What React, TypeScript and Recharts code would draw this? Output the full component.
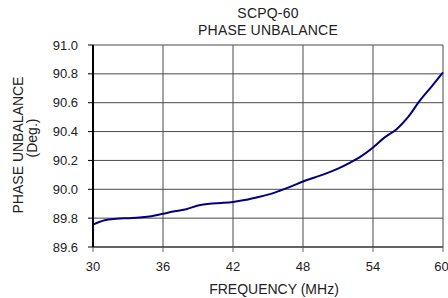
import React from 'react';
import { LineChart, Line, XAxis, YAxis, CartesianGrid } from 'recharts';

const freqs = [30, 31, 32, 33, 34, 35, 36, 37, 38, 39, 40, 41, 42, 43, 44, 45, 46, 47, 48, 49, 50, 51, 52, 53, 54, 55, 56, 57, 58, 59, 60];
const phase = [89.755, 89.785, 89.795, 89.8, 89.805, 89.813, 89.83, 89.848, 89.862, 89.887, 89.9, 89.905, 89.912, 89.925, 89.943, 89.963, 89.99, 90.02, 90.054, 90.082, 90.11, 90.143, 90.183, 90.23, 90.29, 90.36, 90.415, 90.5, 90.613, 90.71, 90.81];
const xTicks = [30, 36, 42, 48, 54, 60];
const yTicks = [89.6, 89.8, 90.0, 90.2, 90.4, 90.6, 90.8, 91.0];

const data = freqs.map((f, i) => ({ f, v: phase[i] }));

const font = '"Liberation Sans", Arial, sans-serif';

// rotated text centred on (cx, cy)
const VText = ({ cx, cy, children }: { cx: number; cy: number; children: React.ReactNode }) => (
  <div
    style={{
      position: 'absolute',
      left: cx,
      top: cy,
      transform: 'translate(-50%, -50%) rotate(-90deg)',
      whiteSpace: 'nowrap',
      fontSize: 14,
      lineHeight: '14px',
    }}
  >
    {children}
  </div>
);

export default function App() {
  return (
    <div style={{ position: 'relative', width: 448, height: 298, background: '#fff', fontFamily: font, color: '#222' }}>
      <style>{'body{margin:0}'}</style>
      <div style={{ position: 'absolute', left: 93, width: 350, top: 5, textAlign: 'center', fontSize: 14, lineHeight: '17px', letterSpacing: 0.2 }}>
        SCPQ-60<br />PHASE UNBALANCE
      </div>
      <VText cx={18} cy={144.5}>PHASE UNBALANCE</VText>
      <VText cx={32} cy={138}>(Deg.)</VText>
      <div style={{ position: 'absolute', left: 99, width: 350, top: 281, textAlign: 'center', fontSize: 14, lineHeight: '16px' }}>
        FREQUENCY (MHz)
      </div>
      <LineChart width={448} height={298} data={data} margin={{ top: 45, right: 5, bottom: 0, left: 0 }}>
        <CartesianGrid stroke="#4a4a4a" strokeWidth={1} />
        <XAxis
          dataKey="f"
          type="number"
          domain={[30, 60]}
          ticks={xTicks}
          height={51}
          axisLine={{ stroke: '#222', strokeWidth: 1 }}
          tickLine={{ stroke: '#666' }}
          tickSize={5}
          tickMargin={10}
          tick={{ fill: '#222', fontSize: 13, fontFamily: font }}
        />
        <YAxis
          type="number"
          domain={[89.6, 91.0]}
          ticks={yTicks}
          width={93}
          axisLine={{ stroke: '#000', strokeWidth: 2 }}
          tickLine={{ stroke: '#000' }}
          tickSize={5}
          tickMargin={10}
          tickFormatter={(v: number) => v.toFixed(1)}
          tick={{ fill: '#222', fontSize: 13, fontFamily: font }}
        />
        <Line type="monotone" dataKey="v" stroke="#000080" strokeWidth={2} dot={false} isAnimationActive={false} />
      </LineChart>
    </div>
  );
}
